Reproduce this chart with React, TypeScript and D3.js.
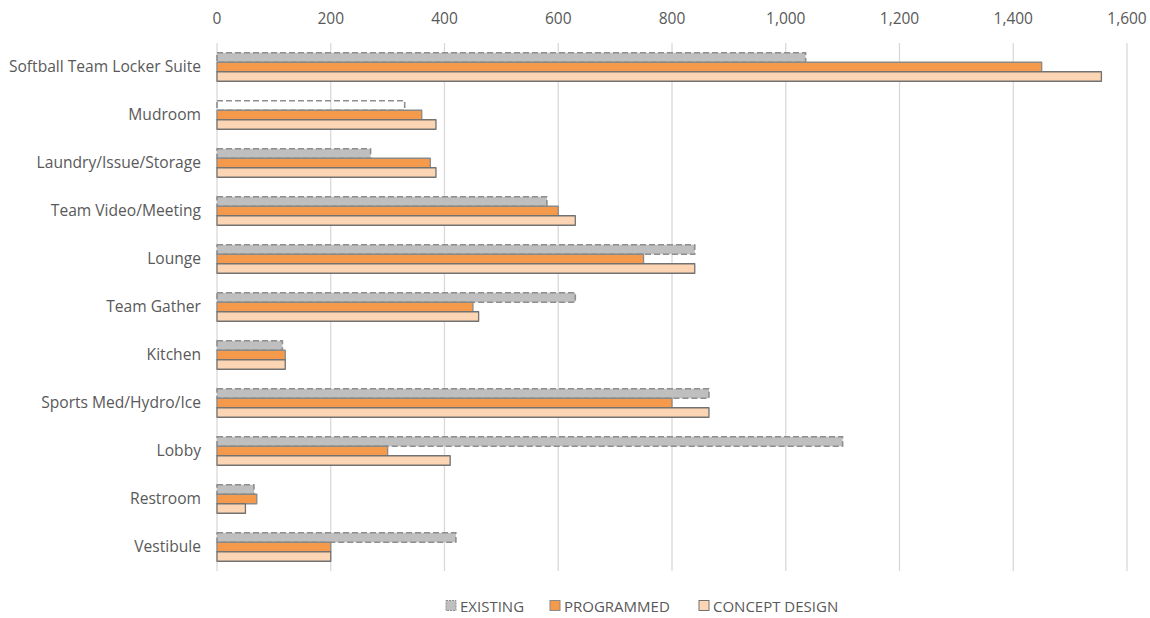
import React from "react";
import * as d3 from "d3";

const categories = [
  "Softball Team Locker Suite",
  "Mudroom",
  "Laundry/Issue/Storage",
  "Team Video/Meeting",
  "Lounge",
  "Team Gather",
  "Kitchen",
  "Sports Med/Hydro/Ice",
  "Lobby",
  "Restroom",
  "Vestibule",
];
const existing = [1035, 330, 270, 580, 840, 630, 115, 865, 1100, 65, 420];
const programmed = [1450, 360, 375, 600, 750, 450, 120, 800, 300, 70, 200];
const conceptDesign = [1555, 385, 385, 630, 840, 460, 120, 865, 410, 50, 200];
const seriesNames = ["EXISTING", "PROGRAMMED", "CONCEPT DESIGN"];
const xTicks = [0, 200, 400, 600, 800, 1000, 1200, 1400, 1600];

const W = 1150;
const H = 618;
const FONT = "'Open Sans', sans-serif";
const TEXT = "#595959";

export default function App() {
  const x = d3.scaleLinear().domain([0, 1600]).range([217, 1127]);
  const y = d3.scaleBand<string>().domain(categories).range([43, 571]).padding(0);
  const y1 = d3
    .scaleBand<string>()
    .domain(seriesNames)
    .range([0, y.step()])
    .paddingInner(0)
    .paddingOuter(1.03);
  const fmt = d3.format(",");
  const series = [existing, programmed, conceptDesign];
  const fills = ["#bfbfbf", "#f59a4b", "#fcd6b4"];
  const strokes = ["#8e8e8e", "#8a8a8a", "#727272"];

  const legendItems = [
    { x: 446, label: seriesNames[0] },
    { x: 550, label: seriesNames[1] },
    { x: 699, label: seriesNames[2] },
  ];

  return (
    <svg
      width={W}
      height={H}
      style={{ position: "absolute", left: 0, top: 0, background: "#fff" }}
      fontFamily={FONT}
    >
      {xTicks.map((t) => (
        <line
          key={t}
          x1={x(t)}
          x2={x(t)}
          y1={43}
          y2={571}
          stroke="#d9d9d9"
          strokeWidth={1.3}
        />
      ))}
      {xTicks.map((t) => (
        <text
          key={"l" + t}
          x={x(t)}
          y={24}
          textAnchor="middle"
          fontSize={15.5}
          fill={TEXT}
        >
          {fmt(t)}
        </text>
      ))}
      {categories.map((c) => (
        <text
          key={c}
          x={201}
          y={(y(c) ?? 0) + y.step() / 2 + 5}
          textAnchor="end"
          fontSize={15.6}
          fill={TEXT}
        >
          {c}
        </text>
      ))}
      {series.map((vals, si) =>
        categories.map((c, ci) => {
          const by = (y(c) ?? 0) + (y1(seriesNames[si]) ?? 0);
          const bh = y1.bandwidth();
          const hollow = si === 0 && c === "Mudroom";
          return (
            <rect
              key={si + "-" + ci}
              x={x(0)}
              y={by}
              width={x(vals[ci]) - x(0)}
              height={bh}
              fill={hollow ? "none" : fills[si]}
              stroke={strokes[si]}
              strokeWidth={si === 0 ? 1.6 : 1.3}
              strokeDasharray={si === 0 ? "6,3" : undefined}
              strokeLinejoin="round"
            />
          );
        })
      )}
      {legendItems.map((it, i) => (
        <g key={it.label}>
          <rect
            x={it.x}
            y={600.5}
            width={10}
            height={10}
            fill={fills[i]}
            stroke={strokes[i]}
            strokeWidth={1}
            strokeDasharray={i === 0 ? "2,1" : undefined}
          />
          <text x={it.x + 14} y={611.5} fontSize={15} fill={TEXT}>
            {it.label}
          </text>
        </g>
      ))}
    </svg>
  );
}
